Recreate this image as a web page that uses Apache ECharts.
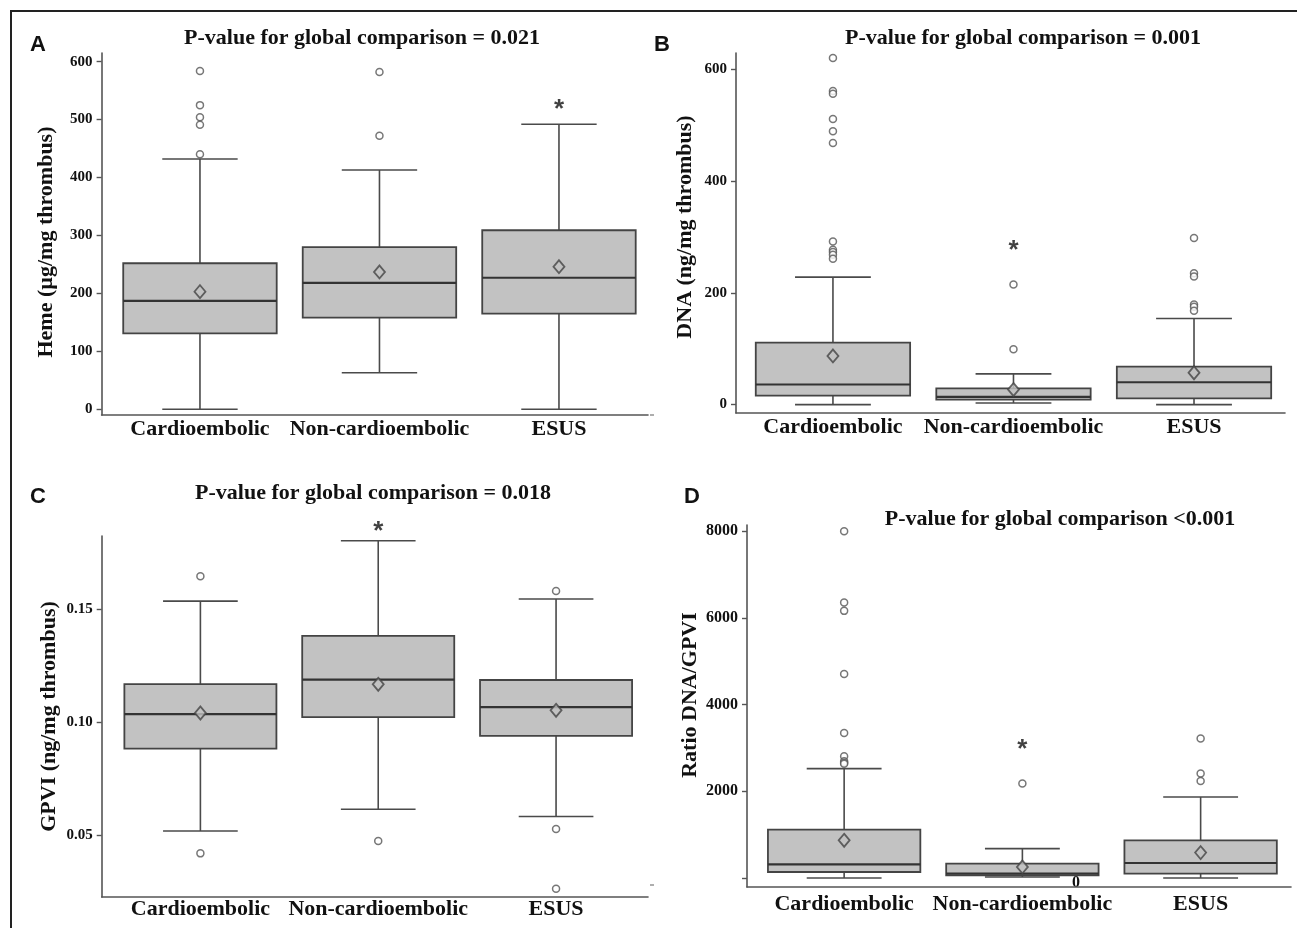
<!DOCTYPE html>
<html><head><meta charset="utf-8">
<script src="https://cdn.jsdelivr.net/npm/echarts@6/dist/echarts.min.js"></script>
<style>html,body{margin:0;padding:0;background:#fff}#c{width:1297px;height:928px}</style>
</head><body><div id="c"></div>
<script>
const categories = ['Cardioembolic', 'Non-cardioembolic', 'ESUS'];
const categoryPositions = [0, 1, 2];

// Panel A: Heme  [min, Q1, median, Q3, max]
const hemeBox = [[0, 131, 187, 252, 432], [63, 158, 218, 280, 413], [0, 165, 227, 309, 492]];
const hemeMean = [203, 237, 246];
const hemeOutliers = [[0, 584], [0, 525], [0, 504], [0, 491], [0, 440], [1, 582], [1, 472]];
const hemeStar = [[2, 528]];
const hemeTicks = [0, 100, 200, 300, 400, 500, 600];

// Panel B: DNA
const dnaBox = [[0, 16, 36, 111, 228], [3, 9, 14, 29, 55], [0, 11, 40, 68, 154]];
const dnaMean = [87, 27, 57];
const dnaOutliers = [[0, 620], [0, 561], [0, 556], [0, 511], [0, 489], [0, 468], [0, 292], [0, 277], [0, 273], [0, 268], [0, 261],
  [1, 215], [1, 99], [2, 298], [2, 235], [2, 229], [2, 179], [2, 175], [2, 168]];
const dnaStar = [[1, 286]];
const dnaTicks = [0, 200, 400, 600];

// Panel C: GPVI
const gpviBox = [[0.0518, 0.0882, 0.1035, 0.1168, 0.1535], [0.0614, 0.1022, 0.1188, 0.1381, 0.1802], [0.0582, 0.0939, 0.1066, 0.1186, 0.1544]];
const gpviMean = [0.104, 0.1167, 0.1052];
const gpviOutliers = [[0, 0.1645], [0, 0.0419], [1, 0.0474], [2, 0.158], [2, 0.0527], [2, 0.0263]];
const gpviStar = [[1, 0.1867]];
const gpviTicks = [0.05, 0.10, 0.15];

// Panel D: Ratio DNA/GPVI
const ratioBox = [[0, 138, 315, 1115, 2523], [23, 62, 100, 331, 677], [0, 100, 346, 869, 1869]];
const ratioMean = [869, 254, 585];
const ratioOutliers = [[0, 8000], [0, 6354], [0, 6162], [0, 4708], [0, 3346], [0, 2808], [0, 2692], [0, 2660], [0, 2638],
  [1, 2177], [2, 3215], [2, 2408], [2, 2238]];
const ratioStar = [[1, 3100]];
const ratioTickMarks = [0, 2000, 4000, 6000, 8000];
const ratioTickLabels = [2000, 4000, 6000, 8000];

const titles = ['P-value for global comparison = 0.021', 'P-value for global comparison = 0.001',
  'P-value for global comparison = 0.018', 'P-value for global comparison <0.001'];
const yNames = ['Heme (µg/mg thrombus)', 'DNA (ng/mg thrombus)', 'GPVI (ng/mg thrombus)', 'Ratio DNA/GPVI'];

const SERIF = '"Liberation Serif", "Times New Roman", serif';
const SANS = '"Liberation Sans", Arial, sans-serif';
const AX = '#555';

function boxRender(params, api) {
  const i = api.value(0);
  const unit = api.size([1, 0])[0];
  const bw = unit * 0.855, cw = unit * 0.42;
  const pMin = api.coord([i, api.value(1)]);
  const pQ1 = api.coord([i, api.value(2)]);
  const pMed = api.coord([i, api.value(3)]);
  const pQ3 = api.coord([i, api.value(4)]);
  const pMax = api.coord([i, api.value(5)]);
  const x = pQ1[0];
  const ls = { stroke: '#4a4a4a', lineWidth: 1.6 };
  return {
    type: 'group', children: [
      { type: 'line', shape: { x1: x, y1: pMax[1], x2: x, y2: pQ3[1] }, style: ls },
      { type: 'line', shape: { x1: x, y1: pQ1[1], x2: x, y2: pMin[1] }, style: ls },
      { type: 'line', shape: { x1: x - cw / 2, y1: pMax[1], x2: x + cw / 2, y2: pMax[1] }, style: ls },
      { type: 'line', shape: { x1: x - cw / 2, y1: pMin[1], x2: x + cw / 2, y2: pMin[1] }, style: ls },
      { type: 'rect', shape: { x: x - bw / 2, y: pQ3[1], width: bw, height: pQ1[1] - pQ3[1] },
        style: { fill: '#c2c2c2', stroke: '#444', lineWidth: 1.8 } },
      { type: 'line', shape: { x1: x - bw / 2, y1: pMed[1], x2: x + bw / 2, y2: pMed[1] }, style: { stroke: '#333', lineWidth: 2.2 } }
    ]
  };
}

const panels = [
  { box: hemeBox, mean: hemeMean, out: hemeOutliers, star: hemeStar, ticks: hemeTicks, labels: hemeTicks,
    min: -10, max: 615, xmin: -0.548, xmax: 2.496, grid: { left: 101.6, top: 53, width: 546.4, height: 362 },
    nameGap: 44, namePad: [0, 16, 0, 0], lblSize: 15, xMargin: 3 },
  { box: dnaBox, mean: dnaMean, out: dnaOutliers, star: dnaStar, ticks: dnaTicks, labels: dnaTicks,
    min: -15, max: 629, xmin: -0.537, xmax: 2.504, grid: { left: 736, top: 53, width: 549, height: 360 },
    nameGap: 40, namePad: [0, 0, 0, 12], lblSize: 15, xMargin: 3 },
  { box: gpviBox, mean: gpviMean, out: gpviOutliers, star: gpviStar, ticks: gpviTicks, labels: gpviTicks,
    min: 0.0226, max: 0.1823, xmin: -0.555, xmax: 2.517, grid: { left: 101.7, top: 536, width: 546.3, height: 361 },
    nameGap: 41, namePad: 0, lblSize: 15, dec: 2, xMargin: 1 },
  { box: ratioBox, mean: ratioMean, out: ratioOutliers, star: ratioStar, ticks: ratioTickMarks, labels: ratioTickLabels,
    min: -208, max: 8143, xmin: -0.545, xmax: 2.507, grid: { left: 747, top: 525, width: 544, height: 362 },
    nameGap: 46, namePad: [0, 0, 0, 22], lblSize: 16, xMargin: 6 }
];

const titlePos = [[362, 27], [1023, 27], [373, 482], [1060, 508]];

const option = {
  animation: false,
  backgroundColor: '#fff',
  title: titles.map((t, k) => ({
    text: t, left: titlePos[k][0], top: titlePos[k][1], textAlign: 'center', padding: 0,
    textStyle: { fontFamily: SERIF, fontWeight: 'bold', fontSize: 22, color: '#111' }
  })),
  grid: panels.map(p => p.grid),
  xAxis: panels.map((p, k) => ({
    type: 'value', gridIndex: k, min: p.xmin, max: p.xmax,
    axisLine: { show: true, onZero: false, lineStyle: { color: AX, width: 1.6 } },
    axisTick: { show: false },
    axisLabel: { customValues: categoryPositions, formatter: v => categories[Math.round(v)],
      fontFamily: SERIF, fontWeight: 'bold', fontSize: 22, color: '#111', margin: p.xMargin },
    splitLine: { show: false }
  })),
  yAxis: panels.map((p, k) => ({
    type: 'value', gridIndex: k, min: p.min, max: p.max,
    name: yNames[k], nameLocation: 'middle', nameGap: p.nameGap,
    nameTextStyle: { fontFamily: SERIF, fontWeight: 'bold', fontSize: 22, color: '#111', padding: p.namePad },
    axisLine: { show: true, onZero: false, lineStyle: { color: AX, width: 1.6 } },
    axisTick: { show: true, length: 5, customValues: p.ticks, lineStyle: { color: AX, width: 1.4 } },
    axisLabel: { customValues: p.labels, fontFamily: SERIF, fontWeight: 'bold', fontSize: p.lblSize, color: '#111', margin: 9,
      formatter: v => p.dec ? Number(v).toFixed(p.dec) : String(v) },
    splitLine: { show: false }
  })),
  series: [].concat(...panels.map((p, k) => [
    { type: 'custom', xAxisIndex: k, yAxisIndex: k, renderItem: boxRender,
      encode: { x: 0, y: [1, 2, 3, 4, 5] }, data: p.box.map((b, i) => [i].concat(b)), z: 2 },
    { type: 'scatter', xAxisIndex: k, yAxisIndex: k, symbol: 'diamond', symbolSize: [11, 13],
      itemStyle: { color: '#c2c2c2', borderColor: '#444', borderWidth: 1.8 },
      data: p.mean.map((m, i) => [i, m]), z: 4 },
    { type: 'scatter', xAxisIndex: k, yAxisIndex: k, symbol: 'circle', symbolSize: 7,
      itemStyle: { color: '#fff', borderColor: '#555', borderWidth: 1.5 },
      data: p.out, z: 4 },
    { type: 'scatter', xAxisIndex: k, yAxisIndex: k, symbolSize: 0, clip: false,
      label: { show: true, formatter: '*', position: 'inside', fontFamily: SANS,
        fontWeight: 'bold', fontSize: 26, color: '#111', offset: [0, 6] },
      data: p.star, z: 5 }
  ])),
  graphic: [
    { type: 'polyline', shape: { points: [[11, 928], [11, 11], [1297, 11]] }, style: { stroke: '#222', lineWidth: 2, fill: null } },
    { type: 'text', x: 38, y: 45, style: { text: 'A', font: 'bold 22px ' + SANS, fill: '#111', textAlign: 'center', textVerticalAlign: 'middle' } },
    { type: 'text', x: 662, y: 45, style: { text: 'B', font: 'bold 22px ' + SANS, fill: '#111', textAlign: 'center', textVerticalAlign: 'middle' } },
    { type: 'text', x: 38, y: 497, style: { text: 'C', font: 'bold 22px ' + SANS, fill: '#111', textAlign: 'center', textVerticalAlign: 'middle' } },
    { type: 'text', x: 692, y: 497, style: { text: 'D', font: 'bold 22px ' + SANS, fill: '#111', textAlign: 'center', textVerticalAlign: 'middle' } },
    { type: 'text', x: 1076, y: 883, style: { text: '0', font: 'bold 16px ' + SERIF, fill: '#111', textAlign: 'center', textVerticalAlign: 'middle' } },
    { type: 'line', shape: { x1: 650, y1: 415, x2: 654, y2: 415 }, style: { stroke: '#777', lineWidth: 1.2 } },
    { type: 'line', shape: { x1: 650, y1: 885, x2: 654, y2: 885 }, style: { stroke: '#777', lineWidth: 1.2 } }
  ]
};

const chart = echarts.init(document.getElementById('c'), null, { renderer: 'canvas' });
chart.setOption(option);
</script>
</body></html>
